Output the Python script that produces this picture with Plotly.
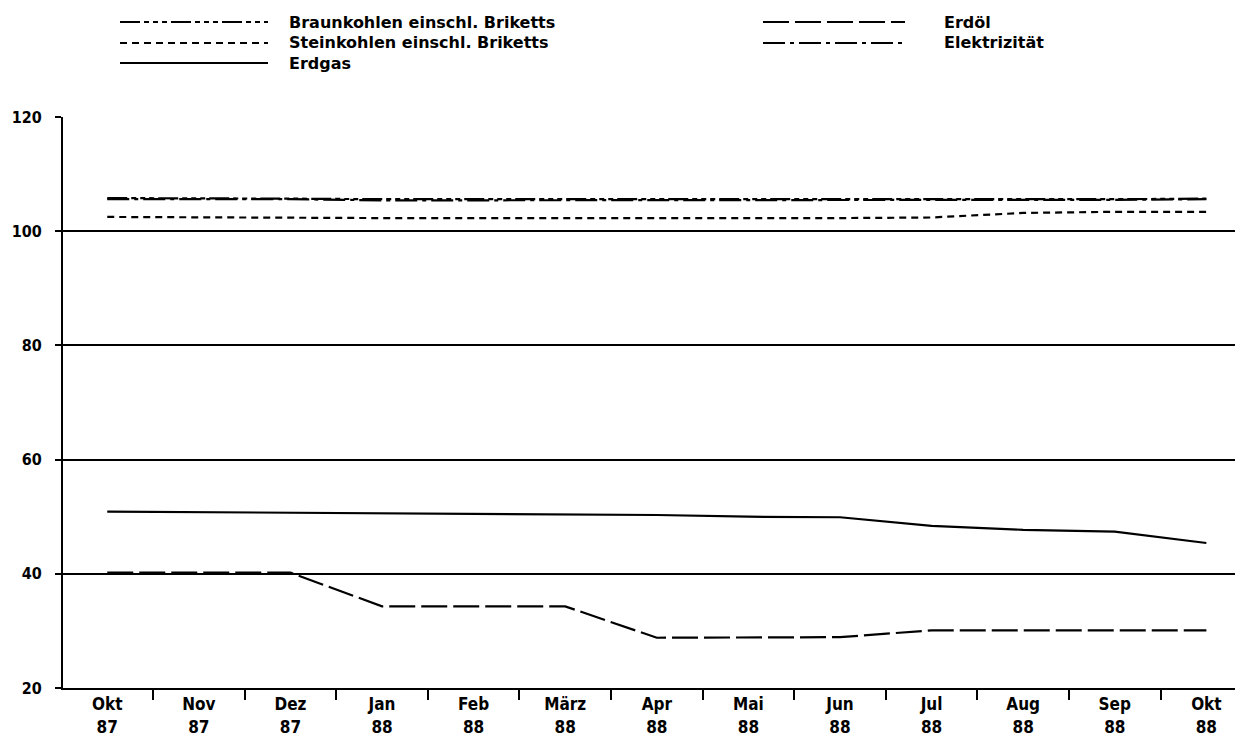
import plotly.graph_objects as go

# ---- data ----
months = ["Okt<br>87", "Nov<br>87", "Dez<br>87", "Jan<br>88", "Feb<br>88", "März<br>88",
          "Apr<br>88", "Mai<br>88", "Jun<br>88", "Jul<br>88", "Aug<br>88", "Sep<br>88", "Okt<br>88"]
braunkohlen = [105.8, 105.8, 105.7, 105.6, 105.6, 105.5, 105.5, 105.5, 105.5, 105.6, 105.6, 105.6, 105.7]
steinkohlen = [102.5, 102.4, 102.4, 102.3, 102.3, 102.3, 102.2, 102.2, 102.3, 102.4, 103.2, 103.4, 103.4]
erdgas = [50.9, 50.8, 50.7, 50.6, 50.6, 50.4, 50.3, 50.0, 49.9, 48.4, 47.7, 47.4, 45.4]
erdoel = [40.2, 40.2, 40.2, 34.3, 34.3, 34.3, 28.8, 28.8, 28.9, 30.1, 30.1, 30.2, 30.1]
elektrizitaet = [105.6, 105.6, 105.6, 105.4, 105.4, 105.4, 105.4, 105.4, 105.4, 105.4, 105.4, 105.5, 105.6]

yticks = [20, 40, 60, 80, 100, 120]

FONT = "DejaVu Sans"
TICKFONT = "DejaVu Sans Condensed, DejaVu Sans"
OFF = 8  # page body margin offset
W, H = 1243 - OFF, 754 - OFF
ML, MR, MT, MB = 63 - OFF, 0, 117 - OFF, 66

series = [
    ("Braunkohlen einschl. Briketts", braunkohlen, "20px,4px,5px,4px,5px,4px,5px,4px"),
    ("Steinkohlen einschl. Briketts", steinkohlen, "7px,5px"),
    ("Erdgas", erdgas, "solid"),
    ("Erdöl", erdoel, "26px,6px"),
    ("Elektrizität", elektrizitaet, "22px,5px,4px,5px"),
]

fig = go.Figure()
for name, vals, dash in series:
    fig.add_trace(go.Scatter(x=months, y=vals, mode="lines", name=name,
                             line=dict(color="black", width=2.2, dash=dash),
                             showlegend=False))

# ---- legend drawn as key lines + labels (page coordinates) ----
pw = W - ML - MR
ph = H - MT - MB
def px(x):
    return (x - OFF - ML) / pw
def py(y):
    return (H - MB - (y - OFF)) / ph

legend_items = [
    (series[0][0], series[0][2], 120, 268, 287, 22),
    (series[1][0], series[1][2], 120, 268, 287, 43),
    (series[2][0], series[2][2], 120, 268, 287, 63),
    (series[3][0], series[3][2], 763, 905, 942, 22),
    (series[4][0], series[4][2], 763, 905, 942, 43),
]
for name, dash, x0, x1, tx, y in legend_items:
    fig.add_shape(type="line", xref="paper", yref="paper",
                  x0=px(x0), x1=px(x1), y0=py(y), y1=py(y),
                  line=dict(color="black", width=2, dash=dash))
    fig.add_annotation(xref="paper", yref="paper", x=px(tx), y=py(y),
                       text=name, showarrow=False, xanchor="left", yanchor="middle",
                       font=dict(family=FONT, size=16, color="black", weight="bold"))

fig.update_layout(
    width=W, height=H,
    margin=dict(l=ML, r=MR, t=MT, b=MB, autoexpand=False),
    paper_bgcolor="white", plot_bgcolor="white",
    font=dict(family=FONT, size=16, color="black"),
    showlegend=False,
)
fig.update_xaxes(
    type="category", categoryorder="array", categoryarray=months,
    range=[-0.483, 12.4],
    showgrid=False, zeroline=False,
    showline=True, linecolor="black", linewidth=2,
    ticks="outside", tickson="boundaries", ticklen=10, tickwidth=2, tickcolor="black",
    tickfont=dict(family=TICKFONT, size=17, color="black", weight="bold"),
    automargin=False,
)
fig.update_yaxes(
    range=[20, 120], tickvals=yticks, ticktext=[str(v) for v in yticks],
    showgrid=True, gridcolor="black", gridwidth=2, zeroline=False,
    showline=True, linecolor="black", linewidth=2,
    ticks="outside", ticklen=6, tickwidth=2, tickcolor="black",
    ticklabelstandoff=10,
    tickfont=dict(family=TICKFONT, size=16, color="black", weight="bold"),
    automargin=False,
)

fig.write_html("out.html")
